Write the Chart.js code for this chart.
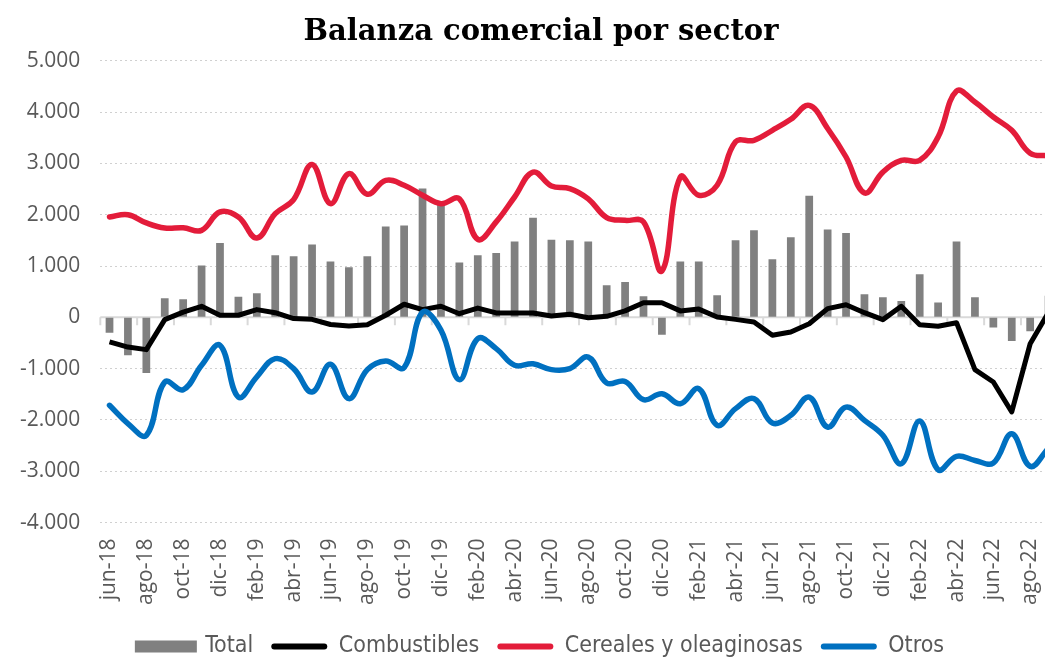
<!DOCTYPE html>
<html>
<head>
<meta charset="utf-8">
<script src="https://cdn.jsdelivr.net/npm/chart.js@4"></script>
<style>
  html, body { margin: 0; padding: 0; background: #fff; overflow: hidden; }
  #wrap { position: absolute; left: 0; top: 0; width: 1082px; height: 657px; }
</style>
</head>
<body>
<div id="wrap"><canvas id="grafico"></canvas></div>
<script>
// meses (el último, sep-22, queda cortado en el borde derecho como en el original)
const meses = ['jun-18','jul-18','ago-18','sep-18','oct-18','nov-18','dic-18','ene-19','feb-19','mar-19',
  'abr-19','may-19','jun-19','jul-19','ago-19','sep-19','oct-19','nov-19','dic-19','ene-20',
  'feb-20','mar-20','abr-20','may-20','jun-20','jul-20','ago-20','sep-20','oct-20','nov-20',
  'dic-20','ene-21','feb-21','mar-21','abr-21','may-21','jun-21','jul-21','ago-21','sep-21',
  'oct-21','nov-21','dic-21','ene-22','feb-22','mar-22','abr-22','may-22','jun-22','jul-22',
  'ago-22','sep-22'];

const total = [-300,-740,-1085,370,350,1010,1450,400,470,1210,
  1190,1420,1090,975,1190,1770,1790,2510,2200,1070,
  1210,1255,1480,1940,1510,1500,1480,625,690,410,
  -340,1090,1090,430,1500,1695,1130,1560,2370,1710,
  1645,450,390,320,840,290,1480,390,-200,-460,
  -270,420];

const combustibles = [-480,-580,-630,-45,100,215,40,40,150,90,
  -25,-40,-140,-170,-145,40,255,150,215,70,
  180,85,85,85,25,60,-10,20,125,285,
  285,125,160,5,-40,-90,-350,-285,-125,170,
  245,90,-45,215,-145,-175,-105,-1020,-1260,-1845,
  -515,100];

const cereales = [1955,2000,1840,1740,1745,1695,2055,1955,1545,2020,
  2295,2980,2215,2800,2400,2670,2575,2380,2215,2310,
  1520,1860,2345,2830,2560,2510,2310,1945,1890,1860,
  905,2735,2380,2575,3420,3450,3645,3860,4130,3680,
  3125,2425,2830,3060,3060,3515,4410,4195,3905,3645,
  3200,3150];

const otros = [-1715,-2070,-2300,-1260,-1410,-935,-545,-1555,-1160,-805,
  -1000,-1455,-915,-1585,-1020,-850,-980,100,-250,-1215,
  -415,-610,-935,-905,-1020,-1000,-775,-1280,-1250,-1605,
  -1490,-1685,-1390,-2105,-1780,-1585,-2060,-1910,-1555,-2140,
  -1750,-2010,-2300,-2855,-2020,-2970,-2710,-2790,-2840,-2270,
  -2905,-2550];

const yTicks = [-4000,-3000,-2000,-1000,0,1000,2000,3000,4000,5000];

const gris = '#595959';
const fuenteEje = 'Open Sans, Lato, sans-serif';

function miles(v) {
  const s = Math.abs(v).toString().replace(/\B(?=(\d{3})+(?!\d))/g, '.');
  return (v < 0 ? '-' : '') + s;
}

// eje del cero con sus marcas, como en Excel
const ejeCero = {
  id: 'ejeCero',
  beforeDatasetsDraw(chart) {
    const { ctx, chartArea, scales: { x, y } } = chart;
    const y0 = y.getPixelForValue(0);
    const medio = (x.getPixelForValue(1) - x.getPixelForValue(0)) / 2;
    ctx.save();
    ctx.strokeStyle = '#d9d9d9';
    ctx.lineWidth = 2;
    ctx.beginPath();
    ctx.moveTo(chartArea.left, y0);
    ctx.lineTo(chartArea.right, y0);
    for (let i = 0; i < meses.length; i += 2) {
      const px = x.getPixelForValue(i) - medio;
      ctx.moveTo(px, y0);
      ctx.lineTo(px, y0 + 8);
    }
    ctx.stroke();
    ctx.restore();
  }
};

// las series van al revés para que las líneas queden encima de las barras
const grafico = new Chart(document.getElementById('grafico'), {
  data: {
    labels: meses,
    datasets: [
      { type: 'line', label: 'Otros', data: otros, borderColor: '#0070C0', backgroundColor: '#0070C0',
        borderWidth: 5.5, pointRadius: 0, tension: 0.4, borderCapStyle: 'round', borderJoinStyle: 'round' },
      { type: 'line', label: 'Cereales y oleaginosas', data: cereales, borderColor: '#E31C3A', backgroundColor: '#E31C3A',
        borderWidth: 5.5, pointRadius: 0, tension: 0.4, borderCapStyle: 'round', borderJoinStyle: 'round' },
      { type: 'line', label: 'Combustibles', data: combustibles, borderColor: '#000', backgroundColor: '#000',
        borderWidth: 5, pointRadius: 0, tension: 0, borderJoinStyle: 'round' },
      { type: 'bar', label: 'Total', data: total, backgroundColor: '#808080',
        barPercentage: 0.42, categoryPercentage: 1 }
    ]
  },
  options: {
    responsive: true,
    maintainAspectRatio: false,
    animation: false,
    layout: { padding: { left: 0, right: 0, top: 2, bottom: -11 } },
    plugins: {
      title: {
        display: true,
        text: 'Balanza comercial por sector',
        color: '#000',
        font: { family: 'DejaVu Serif', size: 29, weight: 'bold' },
        padding: { top: 13, bottom: 11 }
      },
      legend: {
        position: 'bottom',
        reverse: true,
        labels: {
          color: gris,
          font: { family: 'Liberation Sans Narrow, DejaVu Sans Condensed, sans-serif', size: 23 },
          boxWidth: 56,
          boxHeight: 6,
          padding: 18,
          generateLabels(chart) {
            const items = Chart.defaults.plugins.legend.labels.generateLabels(chart);
            items.forEach(it => {
              const ds = chart.data.datasets[it.datasetIndex];
              if (ds.type === 'bar') {
                it.strokeStyle = '#808080';
                it.lineWidth = 6;
              } else {
                it.fillStyle = ds.borderColor;
                it.lineWidth = 0;
                it.borderRadius = 3;
              }
            });
            return items;
          }
        }
      },
      tooltip: { enabled: false }
    },
    scales: {
      x: {
        grid: { display: false },
        border: { display: false },
        afterFit: axis => { axis.height += 4; },
        ticks: {
          autoSkip: false,
          minRotation: 90,
          maxRotation: 90,
          padding: 8,
          color: gris,
          font: { family: fuenteEje, size: 21 },
          callback: (v, i) => (i % 2 === 0 ? meses[i] : '')
        }
      },
      y: {
        min: -4000,
        max: 5000,
        afterBuildTicks: axis => { axis.ticks = yTicks.map(v => ({ value: v })); },
        ticks: {
          padding: 20,
          color: gris,
          font: { family: fuenteEje, size: 21 },
          callback: v => miles(v)
        },
        grid: { color: '#d0d0d0', lineWidth: 1, drawTicks: false },
        border: { display: false, dash: [2, 3] }
      },
      // margen derecho vacío (fuera de la ventana), solo para centrar título y leyenda
      margen: {
        type: 'linear',
        position: 'right',
        grid: { display: false },
        border: { display: false },
        ticks: { display: false },
        afterFit: axis => { axis.width = 22; }
      }
    }
  },
  plugins: [ejeCero]
});
</script>
</body>
</html>
